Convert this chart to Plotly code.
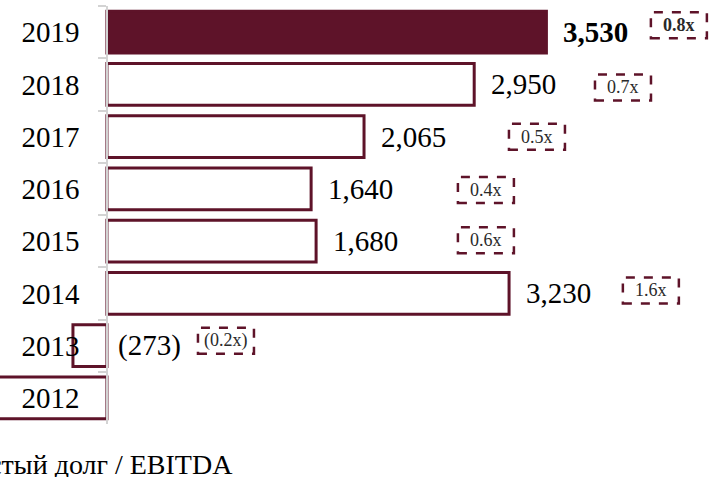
import plotly.graph_objects as go

# ---- data (top to bottom) ----
years = ["2019", "2018", "2017", "2016", "2015", "2014", "2013", "2012"]
net_debt = [3530, 2950, 2065, 1640, 1680, 3230, -273, -1000]
value_labels = ["3,530", "2,950", "2,065", "1,640", "1,680", "3,230", "(273)", ""]
ratio_labels = ["0.8x", "0.7x", "0.5x", "0.4x", "0.6x", "1.6x", "(0.2x)", ""]
legend_text = "Чистый долг / EBITDA"

# ---- layout constants (positions of the ratio boxes, in axis units) ----
RATIO_X = [4594, 4145, 3454, 3044, 3044, 4369, 956, None]
RATIO_YSHIFT = [-7, 3, 0, 1, -1, -3, -5, 0]

MAROON = "#5E1329"
FONT = "Liberation Serif"

fill_colors = [MAROON] + ["white"] * (len(years) - 1)

fig = go.Figure()
fig.add_trace(go.Bar(
    y=years, x=net_debt, orientation="h",
    width=0.8,
    marker=dict(color=fill_colors, line=dict(color=MAROON, width=3)),
    hoverinfo="skip",
))

annotations = []
shapes = []
for i, (yr, v, lab) in enumerate(zip(years, net_debt, value_labels)):
    if lab:
        annotations.append(dict(
            x=max(v, 0), y=i, xref="x", yref="y", text=lab,
            showarrow=False, xanchor="left", yanchor="middle",
            xshift=15 if v > 0 else 9,
            font=dict(family=FONT, size=29, color="black",
                      weight="bold" if i == 0 else "normal"),
        ))
    rl = ratio_labels[i]
    if rl and RATIO_X[i] is not None:
        annotations.append(dict(
            x=RATIO_X[i], y=i, xref="x", yref="y", text=rl,
            showarrow=False, xanchor="center", yanchor="middle",
            yshift=-RATIO_YSHIFT[i],
            font=dict(family=FONT, size=18, color="#2a2a2a",
                      weight="bold" if i == 0 else "normal"),
        ))
        shapes.append(dict(
            type="rect", xref="x", yref="y",
            xsizemode="pixel", ysizemode="pixel",
            xanchor=RATIO_X[i], yanchor=i,
            x0=-28, x1=28,
            y0=-13 - RATIO_YSHIFT[i], y1=13 - RATIO_YSHIFT[i],
            line=dict(color=MAROON, width=2.5, dash="dash"),
            fillcolor="rgba(0,0,0,0)",
        ))

annotations.append(dict(
    x=235 / 710, y=-0.0957, xref="paper", yref="paper", text=legend_text,
    showarrow=False, xanchor="right", yanchor="middle",
    font=dict(family=FONT, size=28, color="black"),
))

W, H = 710, 477
fig.update_layout(
    width=W, height=H,
    margin=dict(l=0, r=0, t=6, b=53, pad=0),
    paper_bgcolor="white", plot_bgcolor="white",
    showlegend=False,
    bargap=0.2,
    xaxis=dict(range=[-859, 4844], visible=False, showgrid=False, zeroline=False),
    yaxis=dict(
        type="category", autorange="reversed",
        anchor="free", position=107 / 710, side="left",
        showline=True, linecolor="#D3D3D3", linewidth=1.5,
        ticks="outside", tickson="boundaries", ticklen=8,
        tickcolor="#D3D3D3", tickwidth=1.5,
        ticklabelstandoff=21,
        tickfont=dict(family=FONT, size=29, color="black"),
        showgrid=False, zeroline=False,
    ),
    annotations=annotations,
    shapes=shapes,
)

fig.write_html(
    "out.html",
    config={"displayModeBar": False},
    post_script="document.body.style.margin='0';document.body.style.overflow='hidden';",
)
